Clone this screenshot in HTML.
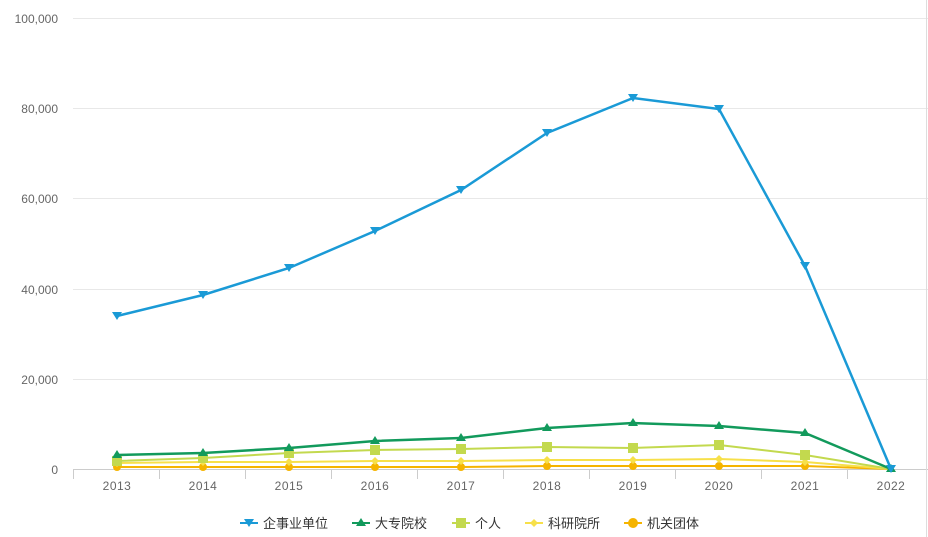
<!DOCTYPE html>
<html><head><meta charset="utf-8"><style>
body{margin:0;background:#fff;}
svg{display:block;font-family:"Liberation Sans","Noto Sans CJK SC",sans-serif;}
</style></head><body>
<svg width="928" height="537" viewBox="0 0 928 537">
<g stroke="#e8e8e8" stroke-width="1">
<line x1="73" y1="18.5" x2="928" y2="18.5"/>
<line x1="73" y1="108.5" x2="928" y2="108.5"/>
<line x1="73" y1="198.5" x2="928" y2="198.5"/>
<line x1="73" y1="289.5" x2="928" y2="289.5"/>
<line x1="73" y1="379.5" x2="928" y2="379.5"/>
</g>
<line x1="73" y1="469.5" x2="928" y2="469.5" stroke="#ccc"/>
<line x1="926.5" y1="0" x2="926.5" y2="537" stroke="#ddd"/>
<g stroke="#ccc">
<line x1="73.5" y1="469" x2="73.5" y2="479"/><line x1="159.5" y1="469" x2="159.5" y2="479"/><line x1="245.5" y1="469" x2="245.5" y2="479"/><line x1="331.5" y1="469" x2="331.5" y2="479"/><line x1="417.5" y1="469" x2="417.5" y2="479"/><line x1="503.5" y1="469" x2="503.5" y2="479"/><line x1="589.5" y1="469" x2="589.5" y2="479"/><line x1="675.5" y1="469" x2="675.5" y2="479"/><line x1="761.5" y1="469" x2="761.5" y2="479"/><line x1="847.5" y1="469" x2="847.5" y2="479"/>
</g>
<g font-size="12" fill="#666" text-anchor="end">
<text x="58" y="23">100,000</text><text x="58" y="113">80,000</text><text x="58" y="203">60,000</text><text x="58" y="294">40,000</text><text x="58" y="384">20,000</text><text x="58" y="474">0</text>
</g>
<g font-size="12" fill="#666" text-anchor="middle" letter-spacing="0.5">
<text x="117" y="490">2013</text><text x="203" y="490">2014</text><text x="289" y="490">2015</text><text x="375" y="490">2016</text><text x="461" y="490">2017</text><text x="547" y="490">2018</text><text x="633" y="490">2019</text><text x="719" y="490">2020</text><text x="805" y="490">2021</text><text x="891" y="490">2022</text>
</g>
<!-- 机关 -->
<polyline fill="none" stroke="#f5b400" stroke-width="2" points="117,467 203,467 289,467 375,467 461,467 547,466 633,466 719,466 805,466 891,469"/>
<g fill="#f5b400"><circle cx="117" cy="467" r="4"/><circle cx="203" cy="467" r="4"/><circle cx="289" cy="467" r="4"/><circle cx="375" cy="467" r="4"/><circle cx="461" cy="467" r="4"/><circle cx="547" cy="466" r="4"/><circle cx="633" cy="466" r="4"/><circle cx="719" cy="466" r="4"/><circle cx="805" cy="466" r="4"/></g>
<!-- 科研 -->
<polyline fill="none" stroke="#f7e04a" stroke-width="2" points="117,463 203,462 289,462 375,461 461,461 547,460 633,460 719,459 805,462 891,469"/>
<g fill="#f7e04a"><path d="M117,459l4,4l-4,4l-4,-4z"/><path d="M203,458l4,4l-4,4l-4,-4z"/><path d="M289,458l4,4l-4,4l-4,-4z"/><path d="M375,457l4,4l-4,4l-4,-4z"/><path d="M461,457l4,4l-4,4l-4,-4z"/><path d="M547,456l4,4l-4,4l-4,-4z"/><path d="M633,456l4,4l-4,4l-4,-4z"/><path d="M719,455l4,4l-4,4l-4,-4z"/><path d="M805,458l4,4l-4,4l-4,-4z"/></g>
<!-- 个人 -->
<polyline fill="none" stroke="#c3d94e" stroke-width="2" points="117,461 203,458 289,453 375,450 461,449 547,447 633,448 719,445 805,455 891,469"/>
<g fill="#c3d94e"><rect x="112" y="456" width="10" height="10"/><rect x="198" y="453" width="10" height="10"/><rect x="284" y="448" width="10" height="10"/><rect x="370" y="445" width="10" height="10"/><rect x="456" y="444" width="10" height="10"/><rect x="542" y="442" width="10" height="10"/><rect x="628" y="443" width="10" height="10"/><rect x="714" y="440" width="10" height="10"/><rect x="800" y="450" width="10" height="10"/></g>
<!-- 大专 -->
<polyline fill="none" stroke="#129a5c" stroke-width="2.5" points="117,455 203,453 289,448 375,441 461,438 547,428 633,423 719,426 805,433 891,469"/>
<g fill="#129a5c"><path d="M117,450l5,8h-10z"/><path d="M203,448l5,8h-10z"/><path d="M289,443l5,8h-10z"/><path d="M375,436l5,8h-10z"/><path d="M461,433l5,8h-10z"/><path d="M547,423l5,8h-10z"/><path d="M633,418l5,8h-10z"/><path d="M719,421l5,8h-10z"/><path d="M805,428l5,8h-10z"/><path d="M891,464l5,8h-10z"/></g>
<!-- 企事业 -->
<polyline fill="none" stroke="#1a9ad6" stroke-width="2.5" points="117,316 203,295 289,268 375,231 461,190 547,133 633,98 719,109 805,266 891,469"/>
<g fill="#1a9ad6"><path d="M112,312h10l-5,8z"/><path d="M198,291h10l-5,8z"/><path d="M284,264h10l-5,8z"/><path d="M370,227h10l-5,8z"/><path d="M456,186h10l-5,8z"/><path d="M542,129h10l-5,8z"/><path d="M628,94h10l-5,8z"/><path d="M714,105h10l-5,8z"/><path d="M800,262h10l-5,8z"/><path d="M886,465h10l-5,8z"/></g>
<!-- legend -->
<g font-size="13" fill="#333">
<line x1="240" y1="523" x2="258" y2="523" stroke="#1a9ad6" stroke-width="2"/><path d="M244,519h10l-5,8z" fill="#1a9ad6"/><text x="263" y="528">企事业单位</text>
<line x1="352" y1="523" x2="370" y2="523" stroke="#129a5c" stroke-width="2"/><path d="M361,518l5,8h-10z" fill="#129a5c"/><text x="375" y="528">大专院校</text>
<line x1="452" y1="523" x2="470" y2="523" stroke="#c3d94e" stroke-width="2"/><rect x="456" y="518" width="10" height="10" fill="#c3d94e"/><text x="475" y="528">个人</text>
<line x1="525" y1="523" x2="543" y2="523" stroke="#f7e04a" stroke-width="2"/><path d="M534,519l4,4l-4,4l-4,-4z" fill="#f7e04a"/><text x="548" y="528">科研院所</text>
<line x1="624" y1="523" x2="642" y2="523" stroke="#f5b400" stroke-width="2"/><circle cx="633" cy="523" r="5" fill="#f5b400"/><text x="647" y="528">机关团体</text>
</g>
</svg>
</body></html>
